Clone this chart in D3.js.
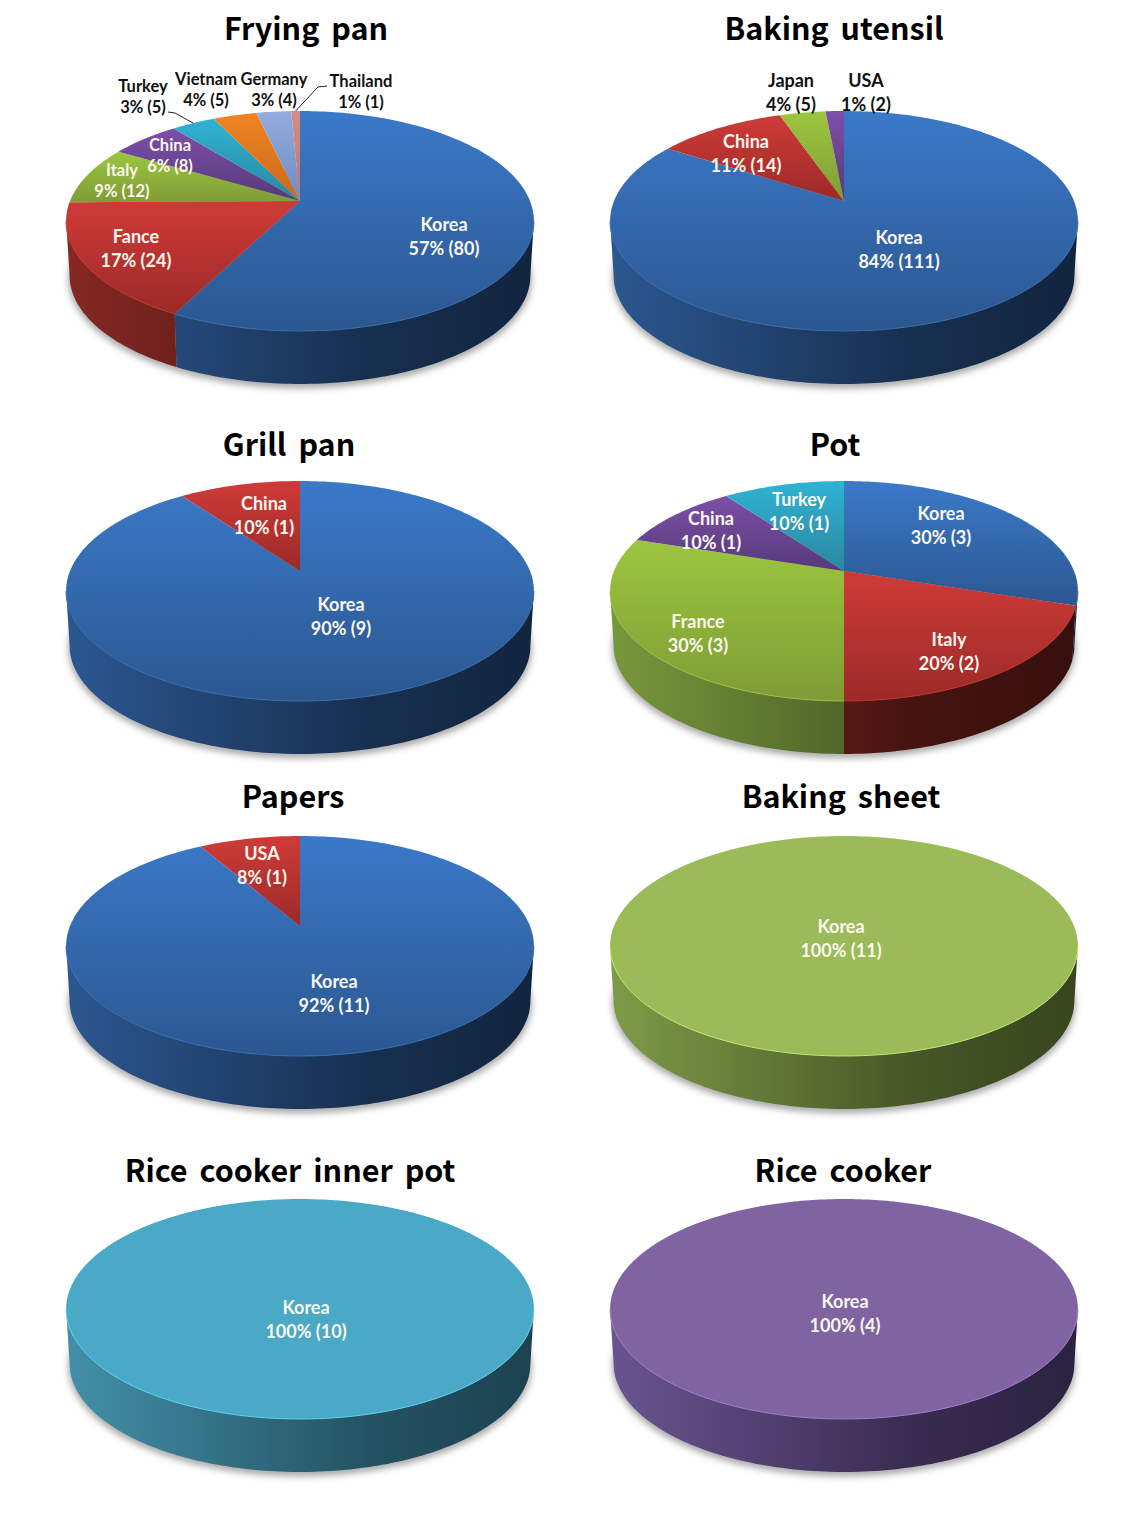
<!DOCTYPE html>
<html>
<head>
<meta charset="utf-8">
<script src="https://cdn.jsdelivr.net/npm/d3@7/dist/d3.min.js"></script>
<style>
  html, body { margin: 0; padding: 0; background: #fff; }
  svg { display: block; }
  .title { font-family: "Noto Sans CJK KR", "Noto Sans", sans-serif; font-weight: 700; font-size: 30.5px; word-spacing: 5px; fill: #000; }
  .label { font-family: Lato, "Open Sans", sans-serif; font-weight: 700; }
</style>
</head>
<body>
<div id="chart"></div>
<script>
// Values
var fryingNames = ["Korea", "Fance", "Italy", "China", "Turkey", "Vietnam", "Germany", "Thailand"];
var fryingCounts = [80, 24, 12, 8, 5, 5, 4, 1];
var fryingPcts = [57, 17, 9, 6, 3, 4, 3, 1];

var utensilNames = ["Korea", "China", "Japan", "USA"];
var utensilCounts = [111, 14, 5, 2];
var utensilPcts = [84, 11, 4, 1];

var grillNames = ["Korea", "China"];
var grillCounts = [9, 1];
var grillPcts = [90, 10];

var potNames = ["Korea", "Italy", "France", "China", "Turkey"];
var potCounts = [3, 2, 3, 1, 1];
var potPcts = [30, 20, 30, 10, 10];

var papersNames = ["Korea", "USA"];
var papersCounts = [11, 1];
var papersPcts = [92, 8];

var sheetNames = ["Korea"];
var sheetCounts = [11];
var sheetPcts = [100];

var innerPotNames = ["Korea"];
var innerPotCounts = [10];
var innerPotPcts = [100];

var cookerNames = ["Korea"];
var cookerCounts = [4];
var cookerPcts = [100];

// Colours: [top of slice, bottom of slice, wall left, wall right]
var palette = {
  blue:   ["#3b79c9", "#2b5790", "#2c5790", "#12253f"],
  red:    ["#cf3b37", "#9c2a28", "#862823", "#360f0c"],
  green:  ["#9cc63f", "#7f9c36", "#78983c", "#3a481e"],
  purple: ["#7e4fa9", "#553a78", "#5a3f80", "#2e2045"],
  teal:   ["#2fb3d3", "#2a87a0", "#2a7c94", "#174655"],
  orange: ["#f08422", "#cc6a18", "#b0641c", "#5a300c"],
  sky:    ["#93abdf", "#6f8cc0", "#64789c", "#323c50"],
  pink:   ["#d48c88", "#bb7571", "#a06460", "#503230"],
  flatGreen:  ["#9bbb59", "#9bbb59", "#7f9b48", "#38451e"],
  flatTeal:   ["#4aa9c6", "#4aa9c6", "#4390a8", "#1c4250"],
  flatPurple: ["#8064a2", "#8064a2", "#6a5490", "#2b2240"]
};

// Layout
var width = 1144, height = 1531;
var halfWidth = 230, nearDrop = 130, farRise = 90; // perspective of the disc, from the apex
var wallDrop = 54.6, wallShrink = 0.985;
var lineGap = 24;

var pies = [
  { title: "Frying pan", tx: 306, ty: 29, cx: 300, apex: 201, names: fryingNames, counts: fryingCounts, pcts: fryingPcts,
    colors: ["blue", "red", "green", "purple", "teal", "orange", "sky", "pink"],
    labels: [[444, 225, 18], [136, 237, 18], [122, 170, 16.5], [170, 145, 16.5], [143, 86, 16.5, 1], [206, 79, 16.5, 1], [274, 79, 16.5, 1], [361, 81, 16.5, 1]] },
  { title: "Baking utensil", tx: 834, ty: 29, cx: 844, apex: 201, names: utensilNames, counts: utensilCounts, pcts: utensilPcts,
    colors: ["blue", "red", "green", "purple"],
    labels: [[899, 238, 18], [746, 142, 18], [791, 81, 18, 1], [866, 81, 18, 1]] },
  { title: "Grill pan", tx: 289, ty: 445, cx: 300, apex: 571, names: grillNames, counts: grillCounts, pcts: grillPcts,
    colors: ["blue", "red"],
    labels: [[341, 605, 18], [264, 504, 18]] },
  { title: "Pot", tx: 835, ty: 445, cx: 844, apex: 571, names: potNames, counts: potCounts, pcts: potPcts,
    colors: ["blue", "red", "green", "purple", "teal"],
    labels: [[941, 514, 18], [949, 640, 18], [698, 622, 18], [711, 519, 18], [799, 500, 18]] },
  { title: "Papers", tx: 293, ty: 797, cx: 300, apex: 926, names: papersNames, counts: papersCounts, pcts: papersPcts,
    colors: ["blue", "red"],
    labels: [[334, 982, 18], [262, 854, 18]] },
  { title: "Baking sheet", tx: 841, ty: 797, cx: 844, apex: 926, names: sheetNames, counts: sheetCounts, pcts: sheetPcts,
    colors: ["flatGreen"],
    labels: [[841, 927, 18]] },
  { title: "Rice cooker inner pot", tx: 290, ty: 1171, cx: 300, apex: 1289, names: innerPotNames, counts: innerPotCounts, pcts: innerPotPcts,
    colors: ["flatTeal"],
    labels: [[306, 1308, 18]] },
  { title: "Rice cooker", tx: 843, ty: 1171, cx: 844, apex: 1289, names: cookerNames, counts: cookerCounts, pcts: cookerPcts,
    colors: ["flatPurple"],
    labels: [[845, 1302, 18]] }
];

// Leader lines: pie index, slice index, elbow and end next to the label
var leaders = [
  { pie: 0, slice: 4, pts: [[175, 113], [168, 112]] },
  { pie: 0, slice: 7, pts: [[318, 87], [327, 86]] }
];

var svg = d3.select("#chart").append("svg")
  .attr("width", width)
  .attr("height", height);
var defs = svg.append("defs");

defs.append("filter").attr("id", "soft")
  .attr("x", "-5%").attr("y", "-5%").attr("width", "110%").attr("height", "115%")
  .append("feGaussianBlur").attr("stdDeviation", 3);

// Perspective of a flat disc: k pulls the far side towards the apex
var k = (farRise - nearDrop) / (farRise + nearDrop);
var b = nearDrop * (1 + k);
var ellipseMid = (nearDrop - farRise) / 2;
var frontStart = Math.acos(-(ellipseMid / (b - k * ellipseMid)));
var frontEnd = 2 * Math.PI - frontStart;

function topPoint(p, t) {
  var u = Math.sin(t), v = -Math.cos(t), w = 1 + k * v;
  return [p.cx + halfWidth * u / w, p.apex + b * v / w];
}
function bottomPoint(p, t) {
  var q = topPoint(p, t), mid = p.apex + ellipseMid;
  return [p.cx + (q[0] - p.cx) * wallShrink, mid + (q[1] - mid) * wallShrink + wallDrop];
}
function arcAngles(a0, a1) {
  var n = Math.max(2, Math.ceil((a1 - a0) / 0.02));
  return d3.range(n + 1).map(function(i) { return a0 + (a1 - a0) * i / n; });
}

var line = d3.line();
var pie = d3.pie().sort(null).value(function(d) { return d; });

// slice gradients run over each slice's own box
Object.keys(palette).forEach(function(name) {
  var c = palette[name];
  var face = defs.append("linearGradient").attr("id", "face" + name)
    .attr("x1", 0).attr("x2", 0).attr("y1", 0).attr("y2", 1);
  face.append("stop").attr("offset", 0).attr("stop-color", c[0]);
  face.append("stop").attr("offset", 1).attr("stop-color", c[1]);
});

pies.forEach(function(p, pi) {
  var g = svg.append("g").attr("class", "pie");
  var arcs = pie(p.counts);

  // wall gradients run across the whole disc
  p.colors.forEach(function(name) {
    var c = palette[name];
    var wall = defs.append("linearGradient").attr("id", "wall" + pi + name)
      .attr("gradientUnits", "userSpaceOnUse")
      .attr("x1", p.cx - 234).attr("x2", p.cx + 234).attr("y1", 0).attr("y2", 0);
    wall.append("stop").attr("offset", 0).attr("stop-color", c[2]);
    wall.append("stop").attr("offset", 0.65).attr("stop-color", d3.interpolateRgb(c[2], c[3])(0.8));
    wall.append("stop").attr("offset", 1).attr("stop-color", c[3]);
  });

  // shadow under the disc
  g.append("path")
    .attr("d", line(arcAngles(0, 2 * Math.PI).map(function(t) { return bottomPoint(p, t); })) + "Z")
    .attr("transform", "translate(0,3)")
    .attr("fill", "#8a8a8a")
    .attr("stroke", "#8a8a8a")
    .attr("stroke-width", 3)
    .attr("opacity", 0.7)
    .attr("filter", "url(#soft)");

  // side wall, only the part of each slice facing us
  g.selectAll("path.wall").data(arcs).enter().append("path")
    .attr("class", "wall")
    .attr("d", function(d) {
      var a0 = Math.max(d.startAngle, frontStart), a1 = Math.min(d.endAngle, frontEnd);
      if (a1 <= a0) return null;
      var angles = arcAngles(a0, a1);
      var pts = angles.map(function(t) { return topPoint(p, t); })
        .concat(angles.slice().reverse().map(function(t) { return bottomPoint(p, t); }));
      return line(pts) + "Z";
    })
    .attr("fill", function(d, i) { return "url(#wall" + pi + p.colors[i] + ")"; });

  // top face
  g.selectAll("path.slice").data(arcs).enter().append("path")
    .attr("class", "slice")
    .attr("d", function(d) {
      var pts = [[p.cx, p.apex]].concat(arcAngles(d.startAngle, d.endAngle).map(function(t) { return topPoint(p, t); }));
      return line(pts) + "Z";
    })
    .attr("fill", function(d, i) { return "url(#face" + p.colors[i] + ")"; });

  // light rim along the front edge
  g.selectAll("path.rim").data(arcs).enter().append("path")
    .attr("class", "rim")
    .attr("d", function(d) {
      var a0 = Math.max(d.startAngle, frontStart), a1 = Math.min(d.endAngle, frontEnd);
      if (a1 <= a0) return null;
      return line(arcAngles(a0, a1).map(function(t) { return topPoint(p, t); }));
    })
    .attr("fill", "none")
    .attr("stroke", function(d, i) { return d3.color(palette[p.colors[i]][1]).brighter(0.6); })
    .attr("stroke-width", 1);

  // title
  g.append("text")
    .attr("class", "title")
    .attr("x", p.tx)
    .attr("y", p.ty)
    .attr("dy", "0.36em")
    .attr("text-anchor", "middle")
    .text(p.title);

  // labels
  p.names.forEach(function(name, i) {
    var l = p.labels[i];
    var gap = l[2] < 18 ? 21 : lineGap;
    var t = g.append("text")
      .attr("class", "label")
      .attr("text-anchor", "middle")
      .attr("font-size", l[2])
      .attr("fill", l[3] ? "#111" : "#fbf7ee");
    t.append("tspan").attr("x", l[0]).attr("y", l[1]).attr("dy", "0.36em").text(name);
    t.append("tspan").attr("x", l[0]).attr("y", l[1] + gap).attr("dy", "0.36em")
      .text(p.pcts[i] + "% (" + p.counts[i] + ")");
  });
});

// leader lines
leaders.forEach(function(l) {
  var p = pies[l.pie], d = pie(p.counts)[l.slice];
  var start = topPoint(p, (d.startAngle + d.endAngle) / 2);
  svg.append("path")
    .attr("d", line([start].concat(l.pts)))
    .attr("fill", "none")
    .attr("stroke", "#222")
    .attr("stroke-width", 1);
});
</script>
</body>
</html>
